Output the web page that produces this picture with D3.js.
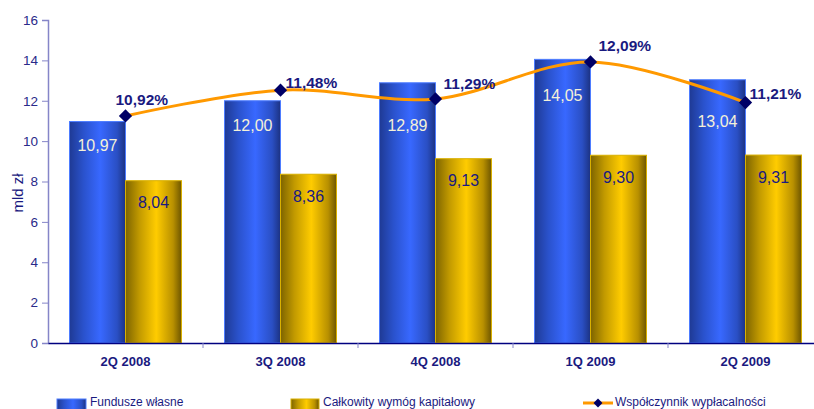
<!DOCTYPE html>
<html><head><meta charset="utf-8">
<script src="https://cdn.jsdelivr.net/npm/d3@7"></script>
<style>body{margin:0;background:#fff}svg{display:block;font-family:"Liberation Sans",Arial,sans-serif}</style>
</head><body>
<svg id="c" width="814" height="409"></svg>
<script>
const categories = ["2Q 2008","3Q 2008","4Q 2008","1Q 2009","2Q 2009"];
const fundusze = [10.97, 12.00, 12.89, 14.05, 13.04];
const wymog = [8.04, 8.36, 9.13, 9.30, 9.31];
const wspolczynnik = [10.92, 11.48, 11.29, 12.09, 11.21];
const yTicks = [0,2,4,6,8,10,12,14,16];
const seriesNames = ["Fundusze własne","Całkowity wymóg kapitałowy","Współczynnik wypłacalności"];
// label placement tweaks (layout only)
const fundLabelAt = [9.8, 10.8, 10.8, 12.25, 11.0];
const pctNudge = [[-10,-17],[5,-8],[8,-15],[8,-17],[4,-9]];

const fmt = v => v.toFixed(2).replace(".", ",");
const svg = d3.select("#c");
const defs = svg.append("defs");
function grad(id, stops){
  const g = defs.append("linearGradient").attr("id",id).attr("x1","0%").attr("x2","100%").attr("y1","0%").attr("y2","0%");
  stops.forEach(s=>g.append("stop").attr("offset",s[0]).attr("stop-color",s[1]));
}
grad("gBlue",[["0%","#1f3a94"],["25%","#2a52cc"],["55%","#3868ff"],["85%","#2a4fc4"],["100%","#1c3282"]]);
grad("gGold",[["0%","#7d6400"],["25%","#c29a00"],["55%","#ffcc00"],["85%","#b89000"],["100%","#6e5600"]]);

const x0 = d3.scaleBand().domain(categories).range([48, 823]).padding(0);
const x1 = d3.scaleBand().domain([0,1]).range([21.5, 133.5]).padding(0);
const y = d3.scaleLinear().domain([0,16]).range([343, 20]);
const y2 = d3.scaleLinear().domain([6,13]).range([343, 20]);

const navy = "#1a1a80";

// left axis
const ya = svg.append("g").attr("transform","translate(48,0)")
  .call(d3.axisLeft(y).tickValues(yTicks).tickSize(6).tickPadding(4).tickFormat(d=>d));
ya.select(".domain").attr("stroke","#8585c8").attr("stroke-width",1.5);
ya.selectAll(".tick line").attr("stroke","#8585c8");
ya.selectAll("text").attr("fill","#2a2a8a").style("font-size","13.5px");

// bars
const groups = svg.append("g").selectAll("g").data(categories).join("g")
  .attr("transform", d=>`translate(${x0(d)},0)`);
groups.append("rect").attr("x",x1(0)).attr("width",x1.bandwidth())
  .attr("y",(d,i)=>y(fundusze[i])).attr("height",(d,i)=>y(0)-y(fundusze[i]))
  .attr("fill","url(#gBlue)").attr("stroke","#4d7cff").attr("stroke-width",1);
groups.append("rect").attr("x",x1(1)).attr("width",x1.bandwidth())
  .attr("y",(d,i)=>y(wymog[i])).attr("height",(d,i)=>y(0)-y(wymog[i]))
  .attr("fill","url(#gGold)").attr("stroke","#d9b000").attr("stroke-width",1);

groups.append("text").attr("x",x1(0)+x1.bandwidth()/2).attr("y",(d,i)=>y(fundLabelAt[i]))
  .attr("text-anchor","middle").attr("dy","0.36em").attr("fill","#f4f1d8")
  .style("font-size","16px").text((d,i)=>fmt(fundusze[i]));
groups.append("text").attr("x",x1(1)+x1.bandwidth()/2).attr("y",(d,i)=>y(wymog[i])+22)
  .attr("text-anchor","middle").attr("dy","0.36em").attr("fill",navy)
  .style("font-size","16px").text((d,i)=>fmt(wymog[i]));

// bottom axis
const xa = svg.append("g").attr("transform","translate(0,343)")
  .call(d3.axisBottom(x0).tickSize(0).tickPadding(14));
xa.select(".domain").attr("stroke","#000080").attr("stroke-width",1.5);
xa.selectAll("text").attr("fill",navy).style("font-size","13px").style("font-weight","bold");
svg.append("g").selectAll("line").data(categories.slice(1)).join("line")
  .attr("x1",d=>x0(d)).attr("x2",d=>x0(d)).attr("y1",343).attr("y2",348)
  .attr("stroke","#8585c8").attr("stroke-width",1);

// line
const cx = (d,i)=>x0(categories[i])+x0.bandwidth()/2;
const line = d3.line().x((d,i)=>cx(d,i)).y(d=>y2(d)).curve(d3.curveCardinal.tension(0));
svg.append("path").datum(wspolczynnik).attr("d",line).attr("fill","none")
  .attr("stroke","#ff9900").attr("stroke-width",3);
svg.append("g").selectAll("path").data(wspolczynnik).join("path")
  .attr("d",d3.symbol().type(d3.symbolSquare).size(88))
  .attr("transform",(d,i)=>`translate(${cx(d,i)},${y2(d)}) rotate(45)`)
  .attr("fill","#000066");
svg.append("g").selectAll("text").data(wspolczynnik).join("text")
  .attr("x",(d,i)=>cx(d,i)+pctNudge[i][0]).attr("y",(d,i)=>y2(d)+pctNudge[i][1])
  .attr("dy","0.36em").attr("fill",navy).style("font-size","15.5px").style("font-weight","bold")
  .text(d=>fmt(d)+"%");

// y label
svg.append("text").attr("transform","translate(23,193) rotate(-90)").attr("text-anchor","middle")
  .attr("fill",navy).style("font-size","15px").text("mld zł");

// legend
const lg = svg.append("g");
lg.append("rect").attr("x",57).attr("y",399).attr("width",29).attr("height",12).attr("fill","url(#gBlue)").attr("stroke","#4d7cff");
lg.append("text").attr("x",90).attr("y",406).attr("fill",navy).style("font-size","12px").text(seriesNames[0]);
lg.append("rect").attr("x",291).attr("y",399).attr("width",28).attr("height",12).attr("fill","url(#gGold)").attr("stroke","#d9b000");
lg.append("text").attr("x",323).attr("y",406).attr("fill",navy).style("font-size","12px").text(seriesNames[1]);
lg.append("line").attr("x1",583).attr("x2",613).attr("y1",403).attr("y2",403).attr("stroke","#ff9900").attr("stroke-width",3);
lg.append("path").attr("d",d3.symbol().type(d3.symbolSquare).size(40)).attr("transform","translate(598,403) rotate(45)").attr("fill","#000066");
lg.append("text").attr("x",615).attr("y",406).attr("fill",navy).style("font-size","12px").text(seriesNames[2]);
</script>
</body></html>
